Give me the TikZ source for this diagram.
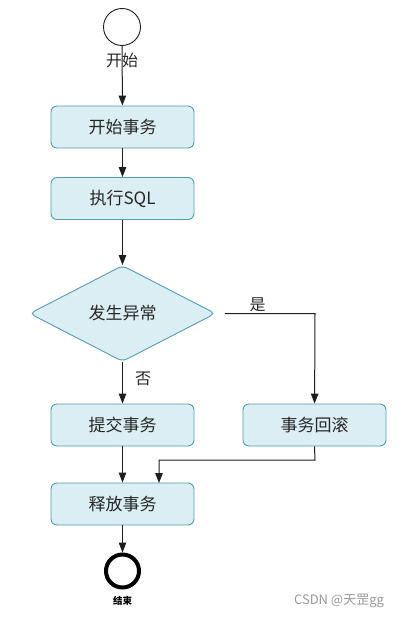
\documentclass[tikz,border=0pt]{standalone}
\usepackage{fontspec}
\setmainfont{Noto Sans CJK SC}
\usetikzlibrary{shapes.geometric,arrows.meta}
\definecolor{boxfill}{RGB}{218,238,243}
\definecolor{boxline}{RGB}{80,158,176}
\definecolor{conn}{RGB}{30,30,30}
\tikzset{
  procbox/.style={draw=boxline, fill=boxfill, rounded corners=6pt, line width=0.9pt,
    minimum width=143pt, minimum height=42pt, inner sep=0pt, text=black!85, font=\fontsize{17}{20}\selectfont},
  decbox/.style={draw=boxline, fill=boxfill, diamond, rounded corners=5pt, line width=0.9pt,
    minimum width=186pt, minimum height=96pt, inner sep=0pt, aspect=1.94, text=black!85, font=\fontsize{17}{20}\selectfont},
  flow/.style={draw=conn, line width=1pt, -{Triangle[length=10pt,width=7.5pt]}},
  lbl/.style={font=\fontsize{16}{19}\selectfont, inner sep=0pt, text=black!85}
}
\begin{document}
\begin{tikzpicture}[x=1pt,y=-1pt]
\useasboundingbox (0,0) rectangle (400,618);
\node[circle, draw=conn, line width=0.9pt, minimum size=37pt, inner sep=0pt] (start) at (122,27) {};
\node[lbl] (startlbl) at (122,60) {开始};
\node[procbox] (b1) at (122.5,127) {开始事务};
\node[procbox] (b2) at (122.5,198.5) {执行SQL};
\node[decbox] (d) at (122.5,313.5) {发生异常};
\node[procbox] (b3) at (122.5,425) {提交事务};
\node[procbox] (b4) at (314.5,425) {事务回滚};
\node[procbox] (b5) at (122.5,504) {释放事务};
\node[circle, draw=black, line width=4pt, minimum size=33pt, inner sep=0pt] (end) at (122.5,571) {};
\node[font=\bfseries\fontsize{9.5}{11}\selectfont, inner sep=0pt] (endlbl) at (122.5,601) {结束};
\node[font=\fontsize{13}{15}\selectfont, text=black!40, inner sep=0pt] (wm) at (339,601) {CSDN @天罡gg};
\coordinate (c1) at (315,313.5);
\coordinate (c2) at (315,460);
\coordinate (c3) at (159,460);
\coordinate (c4) at (159,483);

\draw[flow] (start) -- (b1);
\draw[flow] (b1) -- (b2);
\draw[flow] (b2) -- (d);
\draw[flow] (d) -- node[lbl, right=12pt, pos=0.4] {否} (b3);
\draw[flow, shorten <=9pt] (d.east) -- node[lbl, above=1pt, pos=0.42] {是} (c1) -- (b4);
\draw[flow] (b3) -- (b5);
\draw[flow] (b4.south) -- (c2) -- (c3) -- (c4);
\draw[flow] (b5) -- (end);
\end{tikzpicture}
\end{document}
